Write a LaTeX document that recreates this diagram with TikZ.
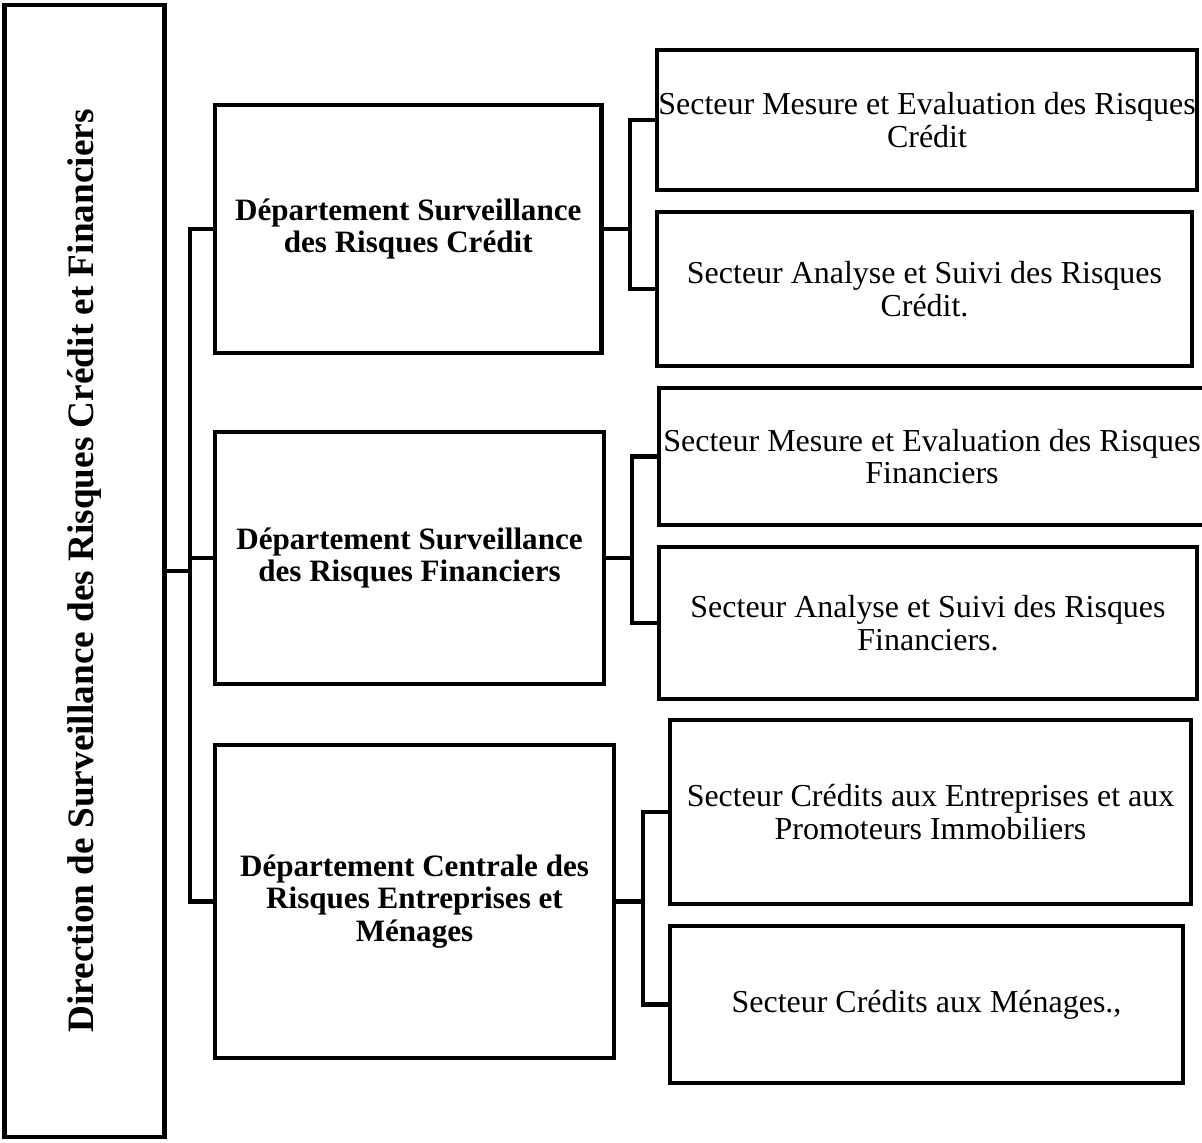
\documentclass[tikz,border=0pt]{standalone}
\usepackage{fontspec}
\setmainfont{Liberation Serif}
\begin{document}
\begin{tikzpicture}[x=0.02cm,y=-0.02cm]
    \tikzstyle{every node}=[rectangle,draw,line width=2.5pt,align=center,inner sep=0pt,font=\fontsize{18.2}{18.6}\selectfont]
    \tikzstyle{head}=[font=\bfseries\fontsize{21.2}{22}\selectfont]
    \tikzstyle{dept}=[font=\bfseries\fontsize{17.7}{18.4}\selectfont]
    \tikzstyle{link}=[line width=2.5pt]
    \useasboundingbox (0,0) rectangle (1202,1142);
    \draw (84.5,571) node[head,minimum width=3.2cm,minimum height=22.65cm] (1) {\rotatebox{90}{Direction de Surveillance des Risques Cr\'edit et Financiers}};
    %%%%%
    \draw (408.25,229) node[dept,minimum width=7.73cm,minimum height=4.96cm] (2) {D\'epartement Surveillance\\des Risques Cr\'edit};
    \draw (409.5,558) node[dept,minimum width=7.78cm,minimum height=5.04cm] (3) {D\'epartement Surveillance\\des Risques Financiers};
    \draw (414.5,901.5) node[dept,minimum width=7.98cm,minimum height=6.26cm] (4) {D\'epartement Centrale des\\Risques Entreprises et\\M\'enages};
    %%%%%
    \draw (927,120) node[minimum width=10.8cm,minimum height=2.8cm] (5) {Secteur Mesure et Evaluation des Risques\\Cr\'edit};
    \draw (924.5,289) node[minimum width=10.7cm,minimum height=3.08cm] (6) {Secteur Analyse et Suivi des Risques\\Cr\'edit.};
    \draw (932,456.5) node[minimum width=10.92cm,minimum height=2.74cm] (7) {Secteur Mesure et Evaluation des Risques\\Financiers};
    \draw (928,623) node[minimum width=10.76cm,minimum height=3.04cm] (8) {Secteur Analyse et Suivi des Risques\\Financiers.};
    \draw (930.5,812) node[minimum width=10.42cm,minimum height=3.68cm] (9) {Secteur Cr\'edits aux Entreprises et aux\\Promoteurs Immobiliers};
    \draw (926.5,1004.5) node[minimum width=10.26cm,minimum height=3.14cm] (10) {Secteur Cr\'edits aux M\'enages.,};
    %%%%%
    \coordinate (s1) at (190,571);
    \coordinate (s2) at (630,229);
    \coordinate (s3) at (632,558);
    \coordinate (s4) at (643,901.5);
    \draw[link] (1.east) -- (s1) |- (2.west);
    \draw[link] (s1) |- (3.west);
    \draw[link] (s1) |- (4.west);
    \draw[link] (2.east) -- (s2) |- (5.west);
    \draw[link] (s2) |- (6.west);
    \draw[link] (3.east) -- (s3) |- (7.west);
    \draw[link] (s3) |- (8.west);
    \draw[link] (4.east) -- (s4) |- (9.west);
    \draw[link] (s4) |- (10.west);
\end{tikzpicture}
\end{document}
